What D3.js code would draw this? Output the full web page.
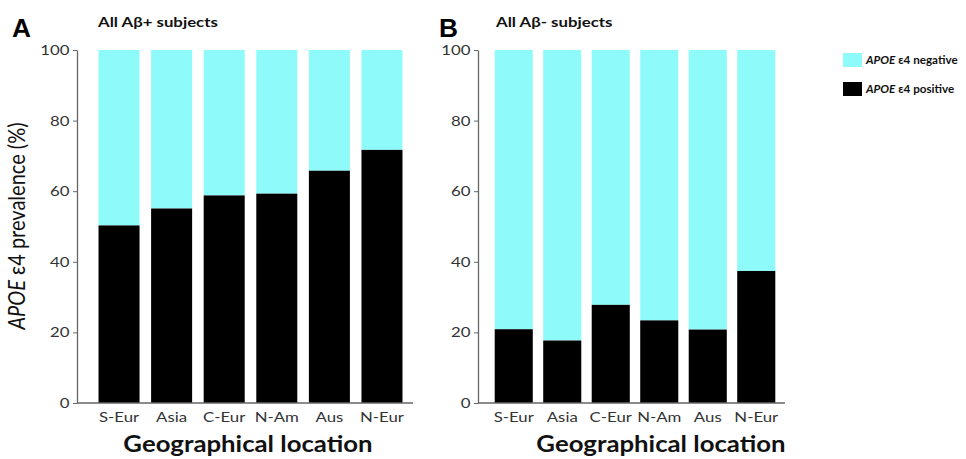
<!DOCTYPE html>
<html>
<head>
<meta charset="utf-8">
<script src="https://cdn.jsdelivr.net/npm/d3@7"></script>
<style>
  body { margin: 0; background: #fff; }
  svg text { font-family: Lato, "Open Sans", sans-serif; }
</style>
</head>
<body>
<div id="chart"></div>
<script>
// data
const regions = ['S-Eur', 'Asia', 'C-Eur', 'N-Am', 'Aus', 'N-Eur'];
const positiveAbPos = [50.3, 55.1, 58.8, 59.3, 65.8, 71.7];
const positiveAbNeg = [20.9, 17.7, 27.8, 23.4, 20.8, 37.4];
const yTicks = [0, 20, 40, 60, 80, 100];
const seriesNames = ['ε4 negative', 'ε4 positive'];

const W = 966, H = 459;
const cyan = '#8ffafa';
const sx = 1.2; // the source figure is a bit stretched sideways

const svg = d3.select('#chart').append('svg')
  .attr('width', W)
  .attr('height', H);

const y = d3.scaleLinear()
  .domain([0, 100])
  .range([403, 50]);

function wideText(parent, x, yPos, str, k) {
  return parent.append('text')
    .attr('transform', 'translate(' + x + ',' + yPos + ') scale(' + (k || sx) + ',1)')
    .text(str);
}

function drawPanel(cfg) {
  const g = svg.append('g');

  const x = d3.scaleBand()
    .domain(regions)
    .range([cfg.x0, cfg.x1])
    .paddingInner(cfg.inner)
    .paddingOuter(0.2);

  // negative (whole bar), then positive on top
  g.selectAll('rect.neg')
    .data(cfg.values)
    .enter().append('rect')
      .attr('class', 'neg')
      .attr('x', (d, i) => x(regions[i]))
      .attr('width', x.bandwidth())
      .attr('y', y(100))
      .attr('height', d => y(d) - y(100))
      .attr('fill', cyan);

  g.selectAll('rect.pos')
    .data(cfg.values)
    .enter().append('rect')
      .attr('class', 'pos')
      .attr('x', (d, i) => x(regions[i]))
      .attr('width', x.bandwidth())
      .attr('y', d => y(d))
      .attr('height', d => y(0) - y(d))
      .attr('fill', '#000');

  // y axis
  const ya = g.append('g')
    .attr('transform', 'translate(' + cfg.axisX + ',0)')
    .call(d3.axisLeft(y).tickValues(yTicks).tickSize(4).tickSizeOuter(0));
  ya.select('.domain').attr('stroke', '#666').attr('stroke-width', 1.3);
  ya.selectAll('.tick line').attr('stroke', '#666');
  ya.selectAll('.tick text')
    .attr('fill', '#333')
    .style('font-size', '14px')
    .attr('x', -7.5 / sx)
    .attr('transform', 'scale(' + sx + ',1)');

  // x axis
  const xa = g.append('g')
    .attr('transform', 'translate(0,' + y(0) + ')')
    .call(d3.axisBottom(x).tickSize(0).tickSizeOuter(0));
  xa.select('.domain')
    .attr('d', 'M' + cfg.axisX + ',0H' + cfg.x1)
    .attr('stroke', '#666').attr('stroke-width', 1.3);
  xa.selectAll('.tick text')
    .attr('fill', '#333')
    .attr('y', 9)
    .style('font-size', '14px')
    .attr('transform', 'scale(' + sx + ',1)');

  // letters & titles
  wideText(g, cfg.letterX, 37, cfg.letter, 1.05)
    .style('font-family', '"Liberation Sans", Arial, sans-serif')
    .style('font-size', '25px').style('font-weight', 'bold');

  wideText(g, cfg.titleX, 27, cfg.title)
    .style('font-size', '14px').style('font-weight', 'bold')
    .attr('fill', '#111');

  wideText(g, cfg.xTitleX, 452, 'Geographical location', 1.12)
    .attr('text-anchor', 'middle')
    .style('font-size', '23px').style('font-weight', 'bold')
    .attr('fill', '#111');
}

drawPanel({
  values: positiveAbPos, x0: 88, x1: 413, inner: 0.22, axisX: 77,
  letter: 'A', letterX: 12, title: 'All Aβ+ subjects', titleX: 98, xTitleX: 248
});

drawPanel({
  values: positiveAbNeg, x0: 485, x1: 785, inner: 0.215, axisX: 478,
  letter: 'B', letterX: 439, title: 'All Aβ- subjects', titleX: 496, xTitleX: 661
});

// y title
const yt = svg.append('text')
  .attr('transform', 'translate(25,226) rotate(-90) scale(1,1.15)')
  .attr('text-anchor', 'middle')
  .style('font-size', '20px')
  .attr('fill', '#111');
yt.append('tspan').style('font-style', 'italic').text('APOE');
yt.append('tspan').text(' ε4 prevalence (%)');

// legend
const legend = svg.append('g').attr('transform', 'translate(843,53)');
const lg = legend.selectAll('g')
  .data(seriesNames)
  .enter().append('g')
    .attr('transform', (d, i) => 'translate(0,' + i * 29 + ')');
lg.append('rect')
  .attr('width', 19).attr('height', 14)
  .attr('fill', (d, i) => i === 0 ? cyan : '#000');
const lt = lg.append('text')
  .attr('transform', 'translate(23,11) scale(1.06,1)')
  .style('font-size', '11px').style('font-weight', 'bold')
  .attr('fill', '#111');
lt.append('tspan').style('font-style', 'italic').text('APOE');
lt.append('tspan').text(d => ' ' + d);
</script>
</body>
</html>
